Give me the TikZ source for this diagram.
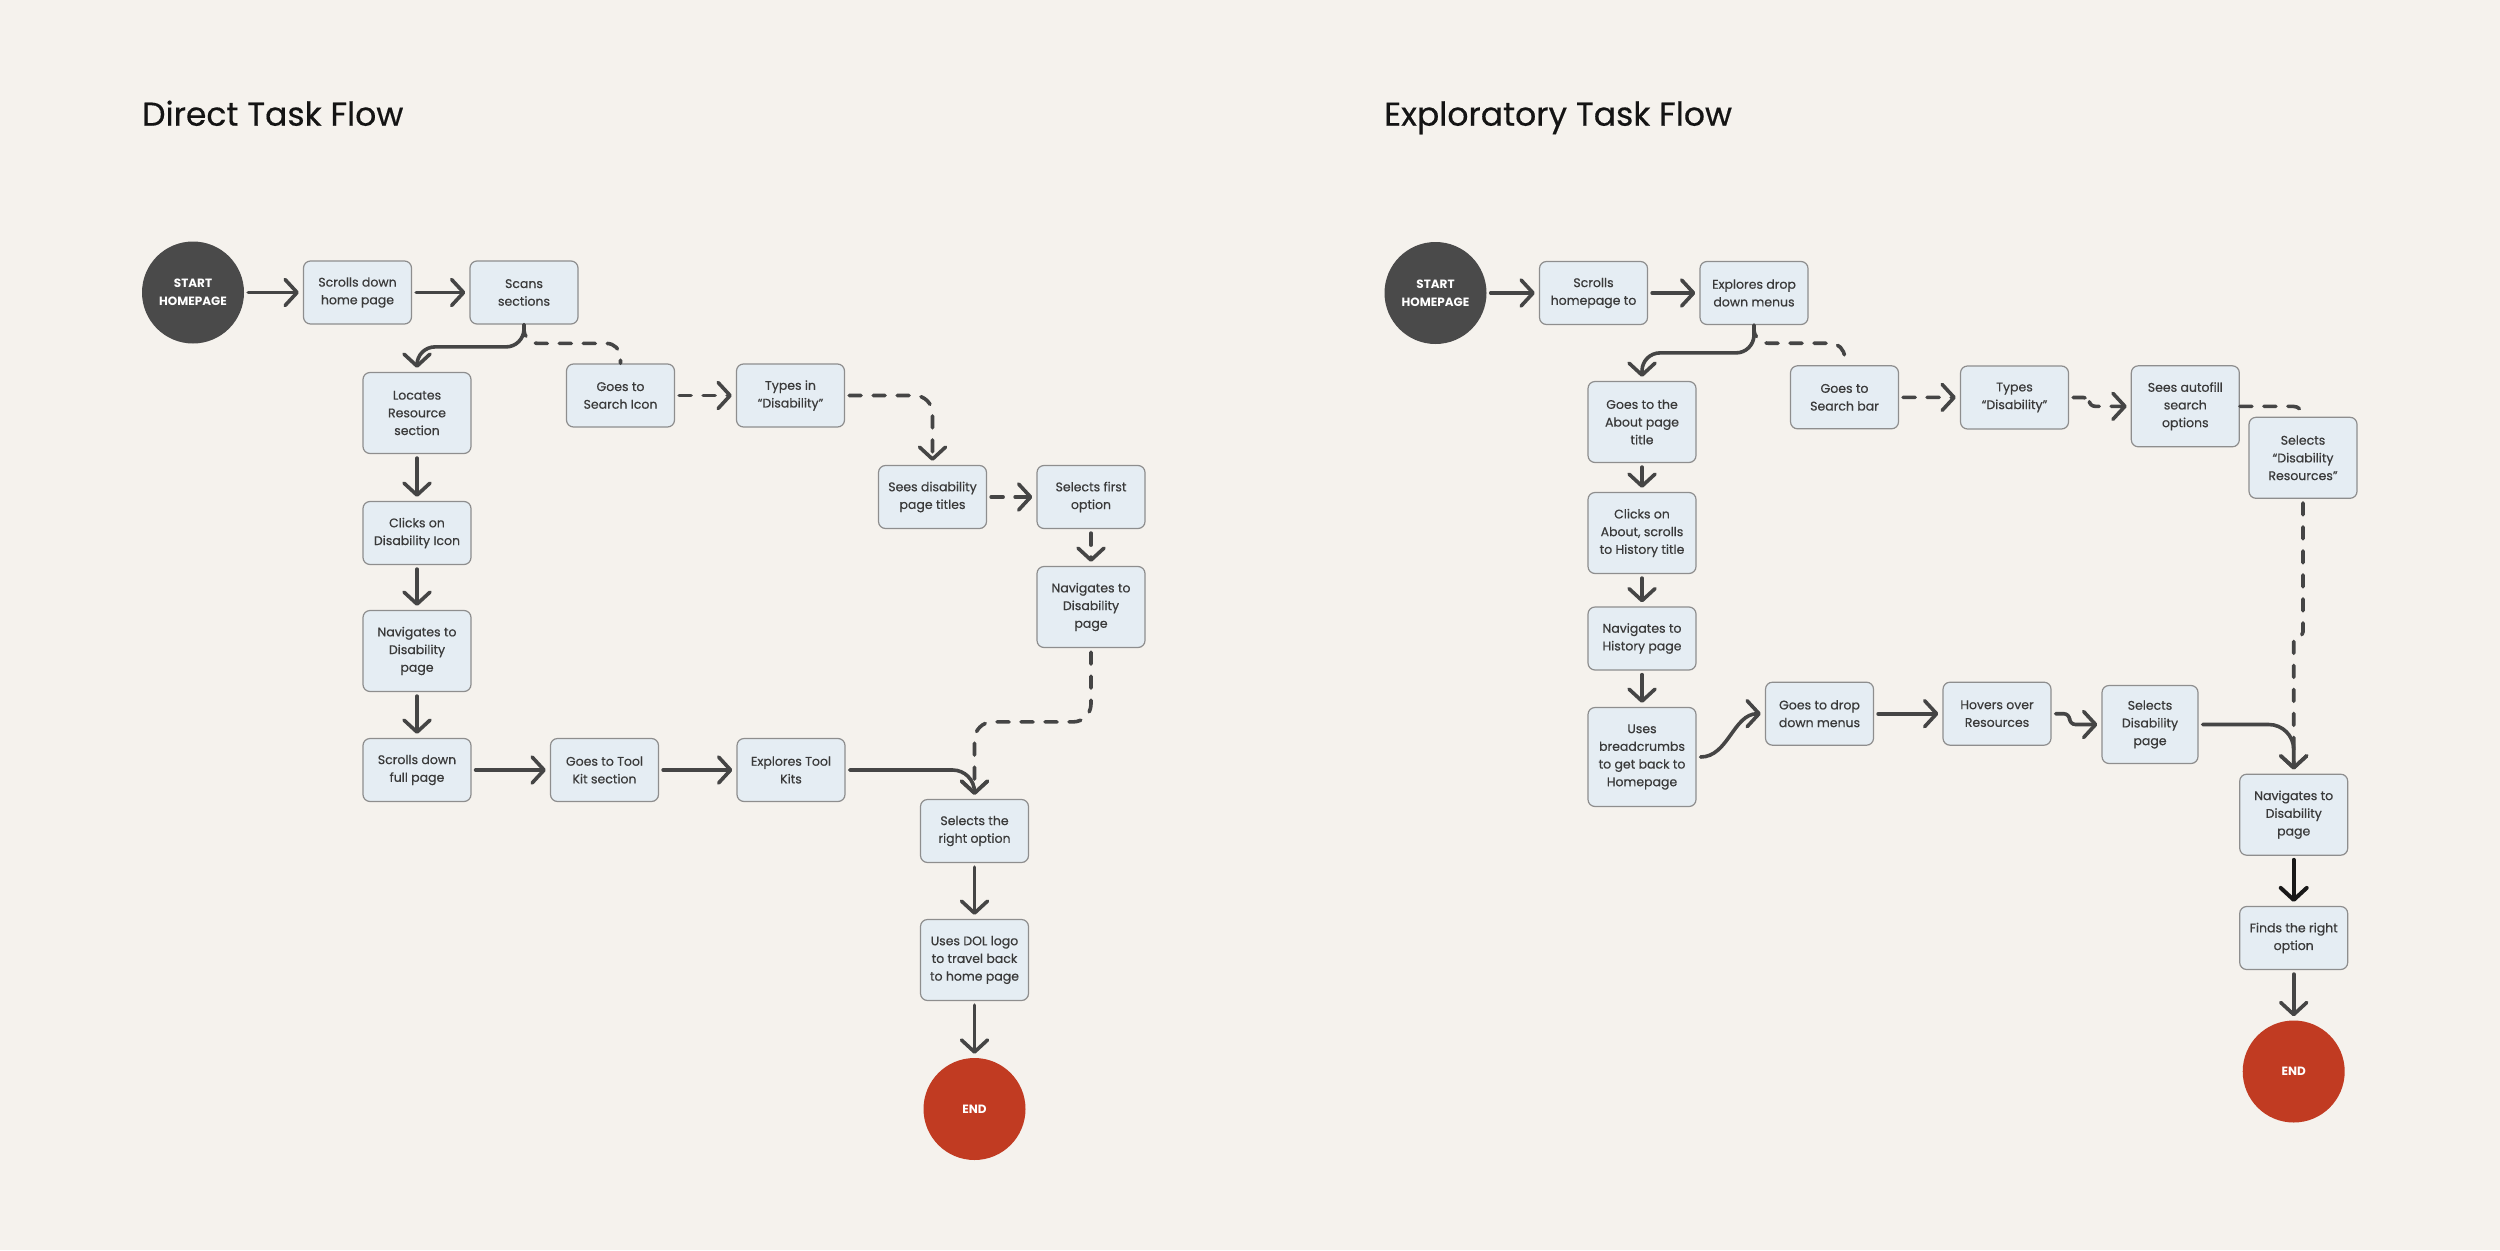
\documentclass[tikz,border=0pt]{standalone}
\usepackage{fontspec}
\setmainfont{Poppins}
\newfontfamily\medfont{Poppins}[FakeBold=0.5]
\newfontfamily\ttlfont{Poppins}[FakeBold=0.4]
\usetikzlibrary{arrows.meta,calc}
\definecolor{bg}{HTML}{F5F2ED}
\definecolor{boxfill}{HTML}{E5EDF3}
\definecolor{boxline}{HTML}{8E8E8E}
\definecolor{ink}{HTML}{3A3A3A}
\definecolor{conn}{HTML}{454545}
\definecolor{startc}{HTML}{4A4A4A}
\definecolor{endc}{HTML}{C13B22}
\begin{document}
\begin{tikzpicture}[x=1pt,y=-1pt,
  fbox/.style={rectangle, rounded corners=7pt, draw=boxline, line width=1.2pt, fill=boxfill,
    minimum width=108pt, minimum height=63pt, inner sep=0pt, align=center, text=ink,
    font=\medfont\fontsize{12.5}{17.7}\selectfont},
  tall/.style={minimum height=81pt},
  taller/.style={minimum height=99pt},
  startnode/.style={circle, fill=startc, minimum size=102pt, inner sep=0pt, align=center,
    text=white, font=\bfseries\fontsize{12}{17.7}\selectfont},
  endnode/.style={circle, fill=endc, minimum size=102pt, inner sep=0pt, align=center,
    text=white, font=\bfseries\fontsize{12}{17.7}\selectfont},
  arr/.style={draw=conn, line width=3.6pt, line cap=round,
    -{Straight Barb[length=12pt,width=26pt,round]}, shorten <=4pt, shorten >=4pt},
  plain/.style={draw=conn, line width=3.6pt, line cap=round},
  dsh/.style={dash pattern=on 12pt off 12pt},
  ttl/.style={anchor=base west, inner sep=0pt, font=\ttlfont\fontsize{33}{40}\selectfont, text=black!92}
]
\fill[bg] (0,0) rectangle (2500,1250);
\useasboundingbox (0,0) rectangle (2500,1250);

% titles
\node[ttl] (t1) at (142,125.7) {Direct Task Flow};
\node[ttl] (t2) at (1384,125.7) {Exploratory Task Flow};

% ---------- Direct flow ----------
\node[startnode] (s1) at (193,292.5) {START\\HOMEPAGE};
\node[fbox] (a1) at (357.5,292.5) {Scrolls down\\home page};
\node[fbox] (a2) at (524,292.5) {Scans\\sections};
\node[fbox,tall] (a3) at (417,413) {Locates\\Resource\\section};
\node[fbox] (a4) at (417,533) {Clicks on\\Disability Icon};
\node[fbox,tall] (a5) at (417,651) {Navigates to\\Disability\\page};
\node[fbox] (a6) at (417,770) {Scrolls down\\full page};
\node[fbox] (a7) at (604.5,770) {Goes to Tool\\Kit section};
\node[fbox] (a8) at (791,770) {Explores Tool\\Kits};
\node[fbox] (b1) at (620.5,395.5) {Goes to\\Search Icon};
\node[fbox] (b2) at (790.5,395.5) {Types in\\“Disability”};
\node[fbox] (b3) at (932.5,497) {Sees disability\\page titles};
\node[fbox] (b4) at (1091,497) {Selects first\\option};
\node[fbox,tall] (b5) at (1091,607) {Navigates to\\Disability\\page};
\node[fbox] (a9) at (974.5,831) {Selects the\\right option};
\node[fbox,tall] (a10) at (974.5,960) {Uses DOL logo\\to travel back\\to home page};
\node[endnode] (e1) at (974.5,1109) {END};

\draw[arr] (s1) -- (a1);
\draw[arr] (a1) -- (a2);
\draw[plain, dsh, rounded corners=14pt] (a2.south) |- ([yshift=20pt]b1.north) -- (b1.north);
\draw[arr, rounded corners=18pt, shorten <=0pt] (a2.south) |- ([yshift=25pt]a3.north) -- (a3.north);
\draw[arr] (a3) -- (a4);
\draw[arr] (a4) -- (a5);
\draw[arr] (a5) -- (a6);
\draw[arr] (a6) -- (a7);
\draw[arr] (a7) -- (a8);
\draw[arr, dsh] (b1) -- (b2);
\draw[arr, dsh, rounded corners=18pt] (b2.east) -| (b3.north);
\draw[arr, dsh] (b3) -- (b4);
\draw[arr, dsh] (b4) -- (b5);
\draw[arr, dsh, rounded corners=18pt] (b5.south) |- ([yshift=77pt]a9.north) -- (a9.north);
\draw[arr, rounded corners=22pt] (a8.east) -| (a9.north);
\draw[arr] (a9) -- (a10);
\draw[arr] (a10) -- (e1);

% ---------- Exploratory flow ----------
\node[startnode] (s2) at (1435.5,293) {START\\HOMEPAGE};
\node[fbox] (c1) at (1593.5,293) {Scrolls\\homepage to};
\node[fbox] (c2) at (1754,293) {Explores drop\\down menus};
\node[fbox,tall] (c3) at (1642,422) {Goes to the\\About page\\title};
\node[fbox,tall] (c4) at (1642,533) {Clicks on\\About, scrolls\\to History title};
\node[fbox] (c5) at (1642,638.5) {Navigates to\\History page};
\node[fbox,taller] (c6) at (1642,757) {Uses\\breadcrumbs\\to get back to\\Homepage};
\node[fbox] (c7) at (1819.5,713.7) {Goes to drop\\down menus};
\node[fbox] (c8) at (1997,713.7) {Hovers over\\Resources};
\node[fbox, minimum width=96pt, minimum height=78pt] (c9) at (2150,724.5) {Selects\\Disability\\page};
\node[fbox,tall] (c10) at (2293.7,814.7) {Navigates to\\Disability\\page};
\node[fbox] (c11) at (2293.7,938) {Finds the right\\option};
\node[endnode] (e2) at (2293.7,1071.5) {END};
\node[fbox] (d1) at (1844.5,397.3) {Goes to\\Search bar};
\node[fbox] (d2) at (2014.5,397.5) {Types\\“Disability”};
\node[fbox,tall] (d3) at (2185.3,406.3) {Sees autofill\\search\\options};
\node[fbox,tall] (d4) at (2303,457.8) {Selects\\“Disability\\Resources”};

\draw[arr] (s2) -- (c1);
\draw[arr] (c1) -- (c2);
\draw[plain, dsh, rounded corners=14pt] (c2.south) |- ([yshift=22pt]d1.north) -- (d1.north);
\draw[arr, rounded corners=18pt, shorten <=0pt] (c2.south) |- ([yshift=28pt]c3.north) -- (c3.north);
\draw[arr] (c3) -- (c4);
\draw[arr] (c4) -- (c5);
\draw[arr] (c5) -- (c6);
\draw[arr] (c6.east) to[out=0,in=180] (c7.west);
\draw[arr] (c7) -- (c8);
\draw[arr, rounded corners=6pt] (c8.east) -- ++(18,0) |- (c9.west);
\draw[arr, dsh] (d1) -- (d2);
\draw[arr, dsh, rounded corners=6pt] (d2.east) -- ++(20,0) |- (d3.west);
\draw[plain, dsh, rounded corners=10pt] (d3.east) -| (d4.north);
\draw[arr, dsh, rounded corners=4pt] (d4.south) -- ++(0,137) -| (c10.north);
\draw[arr, rounded corners=25pt] (c9.east) -| (c10.north);
\draw[arr, draw=black!90, line width=4pt] (c10) -- (c11);
\draw[arr] (c11) -- (e2);
\end{tikzpicture}
\end{document}
